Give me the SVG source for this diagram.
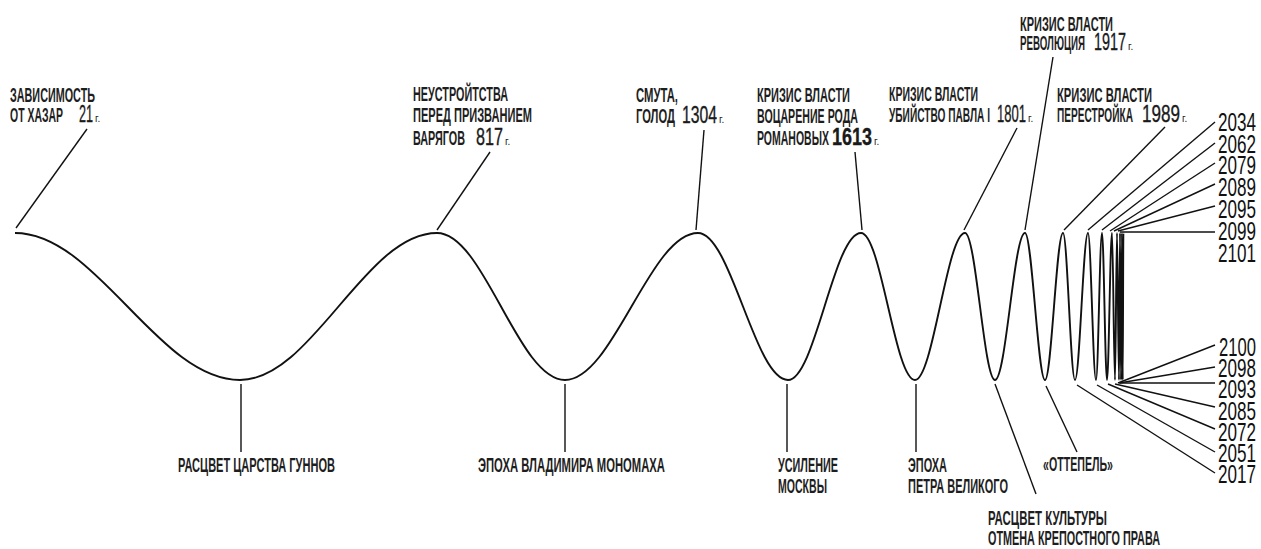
<svg xmlns="http://www.w3.org/2000/svg" width="1261" height="549" viewBox="0 0 1261 549">
<style>
.lb{font-family:"Liberation Sans",Arial,sans-serif;font-weight:bold;font-size:19.5px;fill:#1e1e1e}
.dt{font-family:"Liberation Sans",Arial,sans-serif;font-size:24px;fill:#1a1a1a;stroke:#1a1a1a;stroke-width:0.35}
.g{font-family:"Liberation Sans",Arial,sans-serif;font-size:10px;fill:#1e1e1e}
.yr{font-family:"Liberation Sans",Arial,sans-serif;font-size:25px;fill:#111}
.ln{stroke:#111;stroke-width:1.4;fill:none}
.wave{stroke:#111;stroke-width:1.9;fill:none}
</style>
<rect width="1261" height="549" fill="#fff"/>
<g id="wave">
<path class="wave" d="M15,233 C97,233 158,380 240,380 C312,380 365,233 437,233 C484,233 518,380 565,380 C613,380 650,233 698,233 C731,233 755,380 788,380 C815,380 834,233 861,233 C881,233 895,380 915,380 C933,380 947,233 965,233 C976,233 984,380 995,380 C1006,380 1014,233 1025,233 C1032,233 1038,380 1045,380 C1051.5,380 1056.5,233 1063,233 C1067.4,233 1070.6,380 1075,380 C1079.7,380 1083.3,233 1088,233 C1090.9,233 1093.1,380 1096,380 C1098.2,380 1099.8,233 1102,233 C1103.8,233 1105.2,380 1107,380 C1108.8,380 1110.2,233 1112,233 C1113.1,233 1113.9,380 1115,380 C1115.7,380 1116.3,233 1117,233 C1117.7,233 1118.3,380 1119,380 C1119.4,380 1119.6,233 1120,233 C1120.4,233 1120.6,380 1121,380 C1121.4,380 1121.6,233 1122,233 C1122.25,233 1122.45,380 1122.7,380 C1122.95,380 1123.15,233 1123.4,233"/>
</g>
<g id="connectors">
<line class="ln" x1="16" y1="228" x2="87" y2="129"/>
<line class="ln" x1="437" y1="230" x2="490" y2="152"/>
<line class="ln" x1="696" y1="230" x2="704" y2="130"/>
<line class="ln" x1="862" y1="230" x2="855" y2="152"/>
<line class="ln" x1="964" y1="230" x2="1017" y2="128"/>
<line class="ln" x1="1025" y1="230" x2="1053" y2="57"/>
<line class="ln" x1="1064" y1="230" x2="1165" y2="127"/>
<line class="ln" x1="1088" y1="230" x2="1215" y2="122"/>
<line class="ln" x1="1102" y1="230" x2="1215" y2="143"/>
<line class="ln" x1="1110" y1="231" x2="1215" y2="163"/>
<line class="ln" x1="1114" y1="231" x2="1215" y2="184"/>
<line class="ln" x1="1118" y1="231" x2="1215" y2="206"/>
<line class="ln" x1="1120" y1="232" x2="1215" y2="232"/>
<line class="ln" x1="241" y1="384" x2="241" y2="452"/>
<line class="ln" x1="565" y1="384" x2="565" y2="452"/>
<line class="ln" x1="787" y1="384" x2="787" y2="452"/>
<line class="ln" x1="916" y1="384" x2="916" y2="452"/>
<line class="ln" x1="995" y1="384" x2="1036" y2="494"/>
<line class="ln" x1="1046" y1="386" x2="1077" y2="452"/>
<line class="ln" x1="1077" y1="385" x2="1215" y2="473"/>
<line class="ln" x1="1097" y1="385" x2="1215" y2="452"/>
<line class="ln" x1="1108" y1="384" x2="1215" y2="429"/>
<line class="ln" x1="1115" y1="384" x2="1215" y2="407"/>
<line class="ln" x1="1120" y1="383" x2="1215" y2="383"/>
<line class="ln" x1="1119" y1="383" x2="1215" y2="367"/>
<line class="ln" x1="1118" y1="383" x2="1215" y2="345"/>
</g>
<g id="n21">
<text class="lb" x="10" y="102" textLength="85" lengthAdjust="spacingAndGlyphs">ЗАВИСИМОСТЬ</text>
<text class="lb" x="10" y="122" textLength="53" lengthAdjust="spacingAndGlyphs">ОТ ХАЗАР</text>
<text class="dt" x="79" y="122" textLength="14" lengthAdjust="spacingAndGlyphs">21</text>
<text class="g" x="95" y="122">г.</text>
</g>
<g id="n817">
<text class="lb" x="413" y="101" textLength="95" lengthAdjust="spacingAndGlyphs">НЕУСТРОЙТСТВА</text>
<text class="lb" x="413" y="122" textLength="119" lengthAdjust="spacingAndGlyphs">ПЕРЕД ПРИЗВАНИЕМ</text>
<text class="lb" x="413" y="145" textLength="52" lengthAdjust="spacingAndGlyphs">ВАРЯГОВ</text>
<text class="dt" x="476" y="145" textLength="27" lengthAdjust="spacingAndGlyphs">817</text>
<text class="g" x="505" y="145">г.</text>
</g>
<g id="n1304">
<text class="lb" x="636" y="102" textLength="42" lengthAdjust="spacingAndGlyphs">СМУТА,</text>
<text class="lb" x="636" y="123" textLength="39" lengthAdjust="spacingAndGlyphs">ГОЛОД</text>
<text class="dt" x="682" y="123" textLength="35" lengthAdjust="spacingAndGlyphs">1304</text>
<text class="g" x="719" y="123">г.</text>
</g>
<g id="n1613">
<text class="lb" x="757" y="102" textLength="93" lengthAdjust="spacingAndGlyphs">КРИЗИС ВЛАСТИ</text>
<text class="lb" x="757" y="123" textLength="101" lengthAdjust="spacingAndGlyphs">ВОЦАРЕНИЕ РОДА</text>
<text class="lb" x="757" y="145" textLength="72" lengthAdjust="spacingAndGlyphs">РОМАНОВЫХ</text>
<text class="dt" x="832" y="145" textLength="40" lengthAdjust="spacingAndGlyphs" font-weight="bold">1613</text>
<text class="g" x="874" y="145">г.</text>
</g>
<g id="n1801">
<text class="lb" x="889" y="101" textLength="89" lengthAdjust="spacingAndGlyphs">КРИЗИС ВЛАСТИ</text>
<text class="lb" x="889" y="122" textLength="101" lengthAdjust="spacingAndGlyphs">УБИЙСТВО ПАВЛА I</text>
<text class="dt" x="997" y="122" textLength="29" lengthAdjust="spacingAndGlyphs">1801</text>
<text class="g" x="1028" y="122">г.</text>
</g>
<g id="n1917">
<text class="lb" x="1020" y="31" textLength="93" lengthAdjust="spacingAndGlyphs">КРИЗИС ВЛАСТИ</text>
<text class="lb" x="1020" y="50" textLength="65" lengthAdjust="spacingAndGlyphs">РЕВОЛЮЦИЯ</text>
<text class="dt" x="1094" y="50" textLength="32" lengthAdjust="spacingAndGlyphs">1917</text>
<text class="g" x="1128" y="50">г.</text>
</g>
<g id="n1989">
<text class="lb" x="1057" y="102" textLength="95" lengthAdjust="spacingAndGlyphs">КРИЗИС ВЛАСТИ</text>
<text class="lb" x="1057" y="122" textLength="76" lengthAdjust="spacingAndGlyphs">ПЕРЕСТРОЙКА</text>
<text class="dt" x="1142" y="122" textLength="38" lengthAdjust="spacingAndGlyphs">1989</text>
<text class="g" x="1182" y="122">г.</text>
</g>
<g id="future-peaks">
<text class="yr" x="1218" y="131" textLength="38" lengthAdjust="spacingAndGlyphs">2034</text>
<text class="yr" x="1218" y="153" textLength="38" lengthAdjust="spacingAndGlyphs">2062</text>
<text class="yr" x="1218" y="174" textLength="38" lengthAdjust="spacingAndGlyphs">2079</text>
<text class="yr" x="1218" y="196" textLength="38" lengthAdjust="spacingAndGlyphs">2089</text>
<text class="yr" x="1218" y="218" textLength="38" lengthAdjust="spacingAndGlyphs">2095</text>
<text class="yr" x="1218" y="240" textLength="38" lengthAdjust="spacingAndGlyphs">2099</text>
<text class="yr" x="1218" y="262" textLength="38" lengthAdjust="spacingAndGlyphs">2101</text>
</g>
<g id="future-troughs">
<text class="yr" x="1219" y="356" textLength="37" lengthAdjust="spacingAndGlyphs">2100</text>
<text class="yr" x="1218" y="377" textLength="38" lengthAdjust="spacingAndGlyphs">2098</text>
<text class="yr" x="1218" y="398" textLength="38" lengthAdjust="spacingAndGlyphs">2093</text>
<text class="yr" x="1218" y="420" textLength="38" lengthAdjust="spacingAndGlyphs">2085</text>
<text class="yr" x="1218" y="441" textLength="38" lengthAdjust="spacingAndGlyphs">2072</text>
<text class="yr" x="1218" y="462" textLength="38" lengthAdjust="spacingAndGlyphs">2051</text>
<text class="yr" x="1218" y="483" textLength="38" lengthAdjust="spacingAndGlyphs">2017</text>
</g>
<g id="gunns">
<text class="lb" x="178" y="472" textLength="157" lengthAdjust="spacingAndGlyphs">РАСЦВЕТ ЦАРСТВА ГУННОВ</text>
</g>
<g id="monomakh">
<text class="lb" x="478" y="472" textLength="187" lengthAdjust="spacingAndGlyphs">ЭПОХА ВЛАДИМИРА МОНОМАХА</text>
</g>
<g id="moscow">
<text class="lb" x="778" y="472" textLength="60" lengthAdjust="spacingAndGlyphs">УСИЛЕНИЕ</text>
<text class="lb" x="778" y="493" textLength="49" lengthAdjust="spacingAndGlyphs">МОСКВЫ</text>
</g>
<g id="peter">
<text class="lb" x="908" y="472" textLength="39" lengthAdjust="spacingAndGlyphs">ЭПОХА</text>
<text class="lb" x="908" y="493" textLength="100" lengthAdjust="spacingAndGlyphs">ПЕТРА ВЕЛИКОГО</text>
</g>
<g id="culture">
<text class="lb" x="988" y="525" textLength="119" lengthAdjust="spacingAndGlyphs">РАСЦВЕТ КУЛЬТУРЫ</text>
<text class="lb" x="988" y="545" textLength="172" lengthAdjust="spacingAndGlyphs">ОТМЕНА КРЕПОСТНОГО ПРАВА</text>
</g>
<g id="thaw">
<text class="lb" x="1043" y="471" textLength="70" lengthAdjust="spacingAndGlyphs">«ОТТЕПЕЛЬ»</text>
</g>
</svg>
